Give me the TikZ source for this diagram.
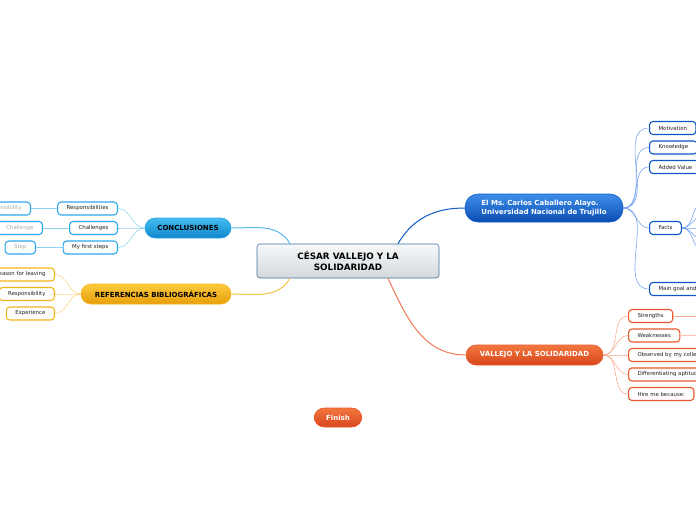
\documentclass[tikz,border=0pt]{standalone}
\usepackage{fontspec}
\setmainfont{DejaVu Sans}
\usepackage{xcolor}
\usepackage{tikz}
\usetikzlibrary{positioning, calc}
\definecolor{centraltop}{HTML}{F7F8F9}
\definecolor{centralbot}{HTML}{D3D9DC}
\definecolor{centraledge}{HTML}{3F6F9E}
\definecolor{bluetop}{HTML}{3D8FEA}
\definecolor{bluebot}{HTML}{0B4CB2}
\definecolor{blueedge}{HTML}{0D58C4}
\definecolor{bluelink}{HTML}{6F9FEE}
\definecolor{cyantop}{HTML}{45BDF0}
\definecolor{cyanbot}{HTML}{0E86CB}
\definecolor{cyanedge}{HTML}{2FA8EA}
\definecolor{cyanlink}{HTML}{8ED2F4}
\definecolor{goldtop}{HTML}{FCCB3C}
\definecolor{goldbot}{HTML}{E89E0B}
\definecolor{goldedge}{HTML}{F4B41A}
\definecolor{goldlink}{HTML}{FAD57C}
\definecolor{orangetop}{HTML}{F2773F}
\definecolor{orangebot}{HTML}{D8461B}
\definecolor{orangeedge}{HTML}{E8582A}
\definecolor{orangelink}{HTML}{F8A88A}
\definecolor{leaftext}{HTML}{222222}
\definecolor{fadedtext}{HTML}{ADADAD}

\begin{document}
\begin{tikzpicture}[x=1pt, y=-1pt,
    topic/.style={rounded corners=10pt, minimum height=20pt, inner xsep=12pt, inner ysep=0pt,
                  line width=0.6pt, font=\fontsize{7}{8.2}\selectfont\bfseries},
    leaf/.style={draw, fill=white, rounded corners=3.5pt, line width=1.1pt, minimum height=13pt,
                 inner xsep=9pt, inner ysep=0pt, text=leaftext, font=\fontsize{5.4}{6}\selectfont},
    link/.style={line width=1pt},
    twig/.style={line width=0.55pt}]
  \useasboundingbox (0,0) rectangle (696,520);
  \clip (0,0) rectangle (696,520);

  % central idea
  \node[draw=centraledge, top color=centraltop, bottom color=centralbot, rounded corners=3pt,
        line width=0.6pt, minimum width=182pt, minimum height=34pt, align=center,
        font=\fontsize{8.8}{11}\selectfont\bfseries] (central) at (348,261)
        {CÉSAR VALLEJO Y LA\\SOLIDARIDAD};

  % main topics
  \node[topic, draw=blueedge, top color=bluetop, bottom color=bluebot, text=white,
        minimum width=158pt, minimum height=28pt, rounded corners=13pt, align=left] (ms) at (544,208)
        {El Ms.\ Carlos Caballero Alayo.\\Universidad Nacional de Trujillo};
  \node[topic, draw=orangeedge, top color=orangetop, bottom color=orangebot, text=white,
        minimum width=137pt] (vallejo) at (534.5,355) {VALLEJO Y LA SOLIDARIDAD};
  \node[topic, draw=cyanedge, top color=cyantop, bottom color=cyanbot, text=black,
        minimum width=86pt] (conclusiones) at (188,228) {CONCLUSIONES};
  \node[topic, draw=goldedge, top color=goldtop, bottom color=goldbot, text=black,
        minimum width=150pt] (referencias) at (156,294) {REFERENCIAS BIBLIOGRÁFICAS};
  \node[topic, draw=orangeedge, top color=orangetop, bottom color=orangebot, text=white,
        minimum width=46pt, minimum height=19pt] (finish) at (338,417.5) {Finish};

  \draw[link, blueedge] ([xshift=50pt]central.north) to[out=60, in=180] (ms.west);
  \draw[link, orangeedge!80] ([xshift=40pt]central.south) to[out=-65, in=180] (vallejo.west);
  \draw[link, cyanedge!80] ([xshift=-58pt]central.north) to[out=120, in=0] (conclusiones.east);
  \draw[link, goldedge!80] ([xshift=-58pt]central.south) to[out=-120, in=0] (referencias.east);

  % El Ms. Carlos Caballero Alayo
  \node[leaf, draw=blueedge, anchor=west] (motivation) at (649,128) {Motivation};
  \node[leaf, draw=blueedge, anchor=west] (knowledge) at (649,147.5) {Knowledge};
  \node[leaf, draw=blueedge, anchor=west] (added) at (649,167) {Added Value};
  \node[leaf, draw=blueedge, anchor=west] (facts) at (649,228) {Facts};
  \node[leaf, draw=blueedge, anchor=west] (maingoal) at (649,289) {Main goal and objectives};
  \foreach \leaf in {motivation, knowledge, added, facts, maingoal}
    \draw[twig, bluelink] (ms.east) to[out=0, in=180] (\leaf.west);
  \foreach \y [count=\i] in {202, 215, 228, 240, 251}
    \coordinate (fact\i) at (704,\y);
  \foreach \i in {1,...,5}
    \draw[twig, bluelink] (facts.east) to[out=0, in=180] (fact\i);

  % Vallejo y la solidaridad
  \node[leaf, draw=orangeedge, anchor=west] (strengths) at (628,316) {Strengths};
  \node[leaf, draw=orangeedge, anchor=west] (weaknesses) at (628,335.5) {Weaknesses};
  \node[leaf, draw=orangeedge, anchor=west] (observed) at (628,355) {Observed by my colleagues};
  \node[leaf, draw=orangeedge, anchor=west] (aptitudes) at (628,374.5) {Differentiating aptitudes};
  \node[leaf, draw=orangeedge, anchor=west] (hireme) at (628,394) {Hire me because:};
  \foreach \leaf in {strengths, weaknesses, observed, aptitudes, hireme}
    \draw[twig, orangelink] (vallejo.east) to[out=0, in=180] (\leaf.west);
  \coordinate (strengths-end) at (704,316);
  \coordinate (weaknesses-end) at (704,335.5);
  \draw[twig, orangelink] (strengths.east) -- (strengths-end);
  \draw[line width=1.4pt, orangelink!70] (weaknesses.east) -- (weaknesses-end);

  % Conclusiones
  \node[leaf, draw=cyanedge, anchor=east] (responsibilities) at (118,208.5) {Responsibilities};
  \node[leaf, draw=cyanedge, anchor=east] (challenges) at (118,228) {Challenges};
  \node[leaf, draw=cyanedge, anchor=east] (firststeps) at (118,247.5) {My first steps};
  \foreach \leaf in {responsibilities, challenges, firststeps}
    \draw[twig, cyanlink] (conclusiones.west) to[out=180, in=0] (\leaf.east);
  \node[leaf, draw=cyanedge, text=fadedtext, anchor=east] (responsibility) at (31,208.5) {Responsibility};
  \node[leaf, draw=cyanedge, text=fadedtext, anchor=east] (challenge) at (43,228) {Challenge};
  \node[leaf, draw=cyanedge, text=fadedtext, anchor=east] (step) at (36,247.5) {Step};
  \draw[twig, cyanlink] (responsibilities.west) -- (responsibility.east);
  \draw[twig, cyanlink] (challenges.west) -- (challenge.east);
  \draw[twig, cyanlink] (firststeps.west) -- (step.east);

  % Referencias bibliograficas
  \node[leaf, draw=goldedge, anchor=east] (leaving) at (55,274.5) {Reason for leaving};
  \node[leaf, draw=goldedge, anchor=east] (responsib) at (55,294) {Responsibility};
  \node[leaf, draw=goldedge, anchor=east] (experience) at (55,313.5) {Experience};
  \foreach \leaf in {leaving, responsib, experience}
    \draw[twig, goldlink] (referencias.west) to[out=180, in=0] (\leaf.east);
\end{tikzpicture}
\end{document}
